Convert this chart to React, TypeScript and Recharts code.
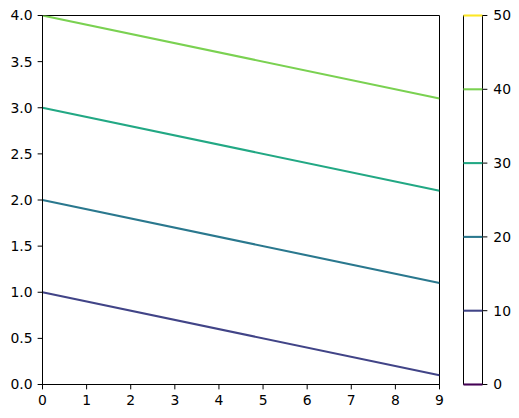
import React from "react";
import { ComposedChart, Line, XAxis, YAxis, ReferenceArea, ReferenceLine } from "recharts";

const xTicks = [0, 1, 2, 3, 4, 5, 6, 7, 8, 9];
const yTicks = [0, 0.5, 1, 1.5, 2, 2.5, 3, 3.5, 4];
const levels = [0, 10, 20, 30, 40, 50];
const levelColors = ["#440154", "#414487", "#2a788e", "#22a884", "#7ad151", "#fde725"];
const lineX = [0, 9];
const line10 = [1.0, 0.1];
const line20 = [2.0, 1.1];
const line30 = [3.0, 2.1];
const line40 = [4.0, 3.1];

const data = lineX.map((x, i) => ({
  x,
  l10: line10[i],
  l20: line20[i],
  l30: line30[i],
  l40: line40[i],
}));
const lineKeys = [
  { key: "l10", color: levelColors[1] },
  { key: "l20", color: levelColors[2] },
  { key: "l30", color: levelColors[3] },
  { key: "l40", color: levelColors[4] },
];
const cbData = [
  { x: 0, v: levels[0] },
  { x: 1, v: levels[levels.length - 1] },
];

const W = 519;
const H = 418;
const font = { fontFamily: "DejaVu Sans", fontSize: 13.9, fill: "#000" };
const TICK = 4.86;

export default function App() {
  return (
    <div style={{ position: "absolute", left: 0, top: 0, width: W, height: H, background: "#fff", fontFamily: "DejaVu Sans", fontSize: 13.9 }}>
      <div style={{ position: "absolute", left: 0, top: 0 }}>
        <ComposedChart width={W} height={H} data={data} margin={{ top: 15.5, right: 79.5, bottom: 0, left: 0 }}>
          <XAxis
            dataKey="x"
            type="number"
            domain={[0, 9]}
            ticks={xTicks}
            interval={0}
            height={33.5}
            tickSize={TICK}
            tickMargin={6}
            stroke="#000"
            strokeWidth={1}
            fontSize={13.9}
            tick={font}
            allowDataOverflow
          />
          <YAxis
            type="number"
            domain={[0, 4]}
            ticks={yTicks}
            interval={0}
            width={42.5}
            tickSize={TICK}
            tickMargin={5}
            stroke="#000"
            strokeWidth={1}
            fontSize={13.9}
            tick={font}
            tickFormatter={(v: number) => v.toFixed(1)}
            allowDataOverflow
          />
          {lineKeys.map((lk) => (
            <Line
              key={lk.key}
              dataKey={lk.key}
              stroke={lk.color}
              strokeWidth={2.08}
              dot={false}
              isAnimationActive={false}
            />
          ))}
          <ReferenceArea x1={0} x2={9} y1={0} y2={4} fill="none" stroke="#000" strokeWidth={1} ifOverflow="visible" />
        </ComposedChart>
      </div>
      <div style={{ position: "absolute", left: 0, top: 0 }}>
        <ComposedChart width={W} height={H} data={cbData} margin={{ top: 15.5, right: 0, bottom: 33.5, left: 463.5 }}>
          <XAxis dataKey="x" type="number" domain={[0, 1]} hide />
          <YAxis
            orientation="right"
            type="number"
            domain={[0, 50]}
            ticks={levels}
            interval={0}
            width={36.5}
            tickSize={TICK}
            tickMargin={6}
            axisLine={false}
            stroke="#000"
            strokeWidth={1}
            fontSize={13.9}
            tick={font}
          />
          <Line dataKey="v" stroke="none" dot={false} isAnimationActive={false} />
          <ReferenceArea x1={0} x2={1} y1={0} y2={50} fill="#fff" fillOpacity={1} stroke="#000" strokeWidth={1} ifOverflow="visible" />
          {levels.map((lv, i) => (
            <ReferenceLine key={lv} y={lv} stroke={levelColors[i]} strokeWidth={2.08} ifOverflow="visible" />
          ))}
        </ComposedChart>
      </div>
    </div>
  );
}
